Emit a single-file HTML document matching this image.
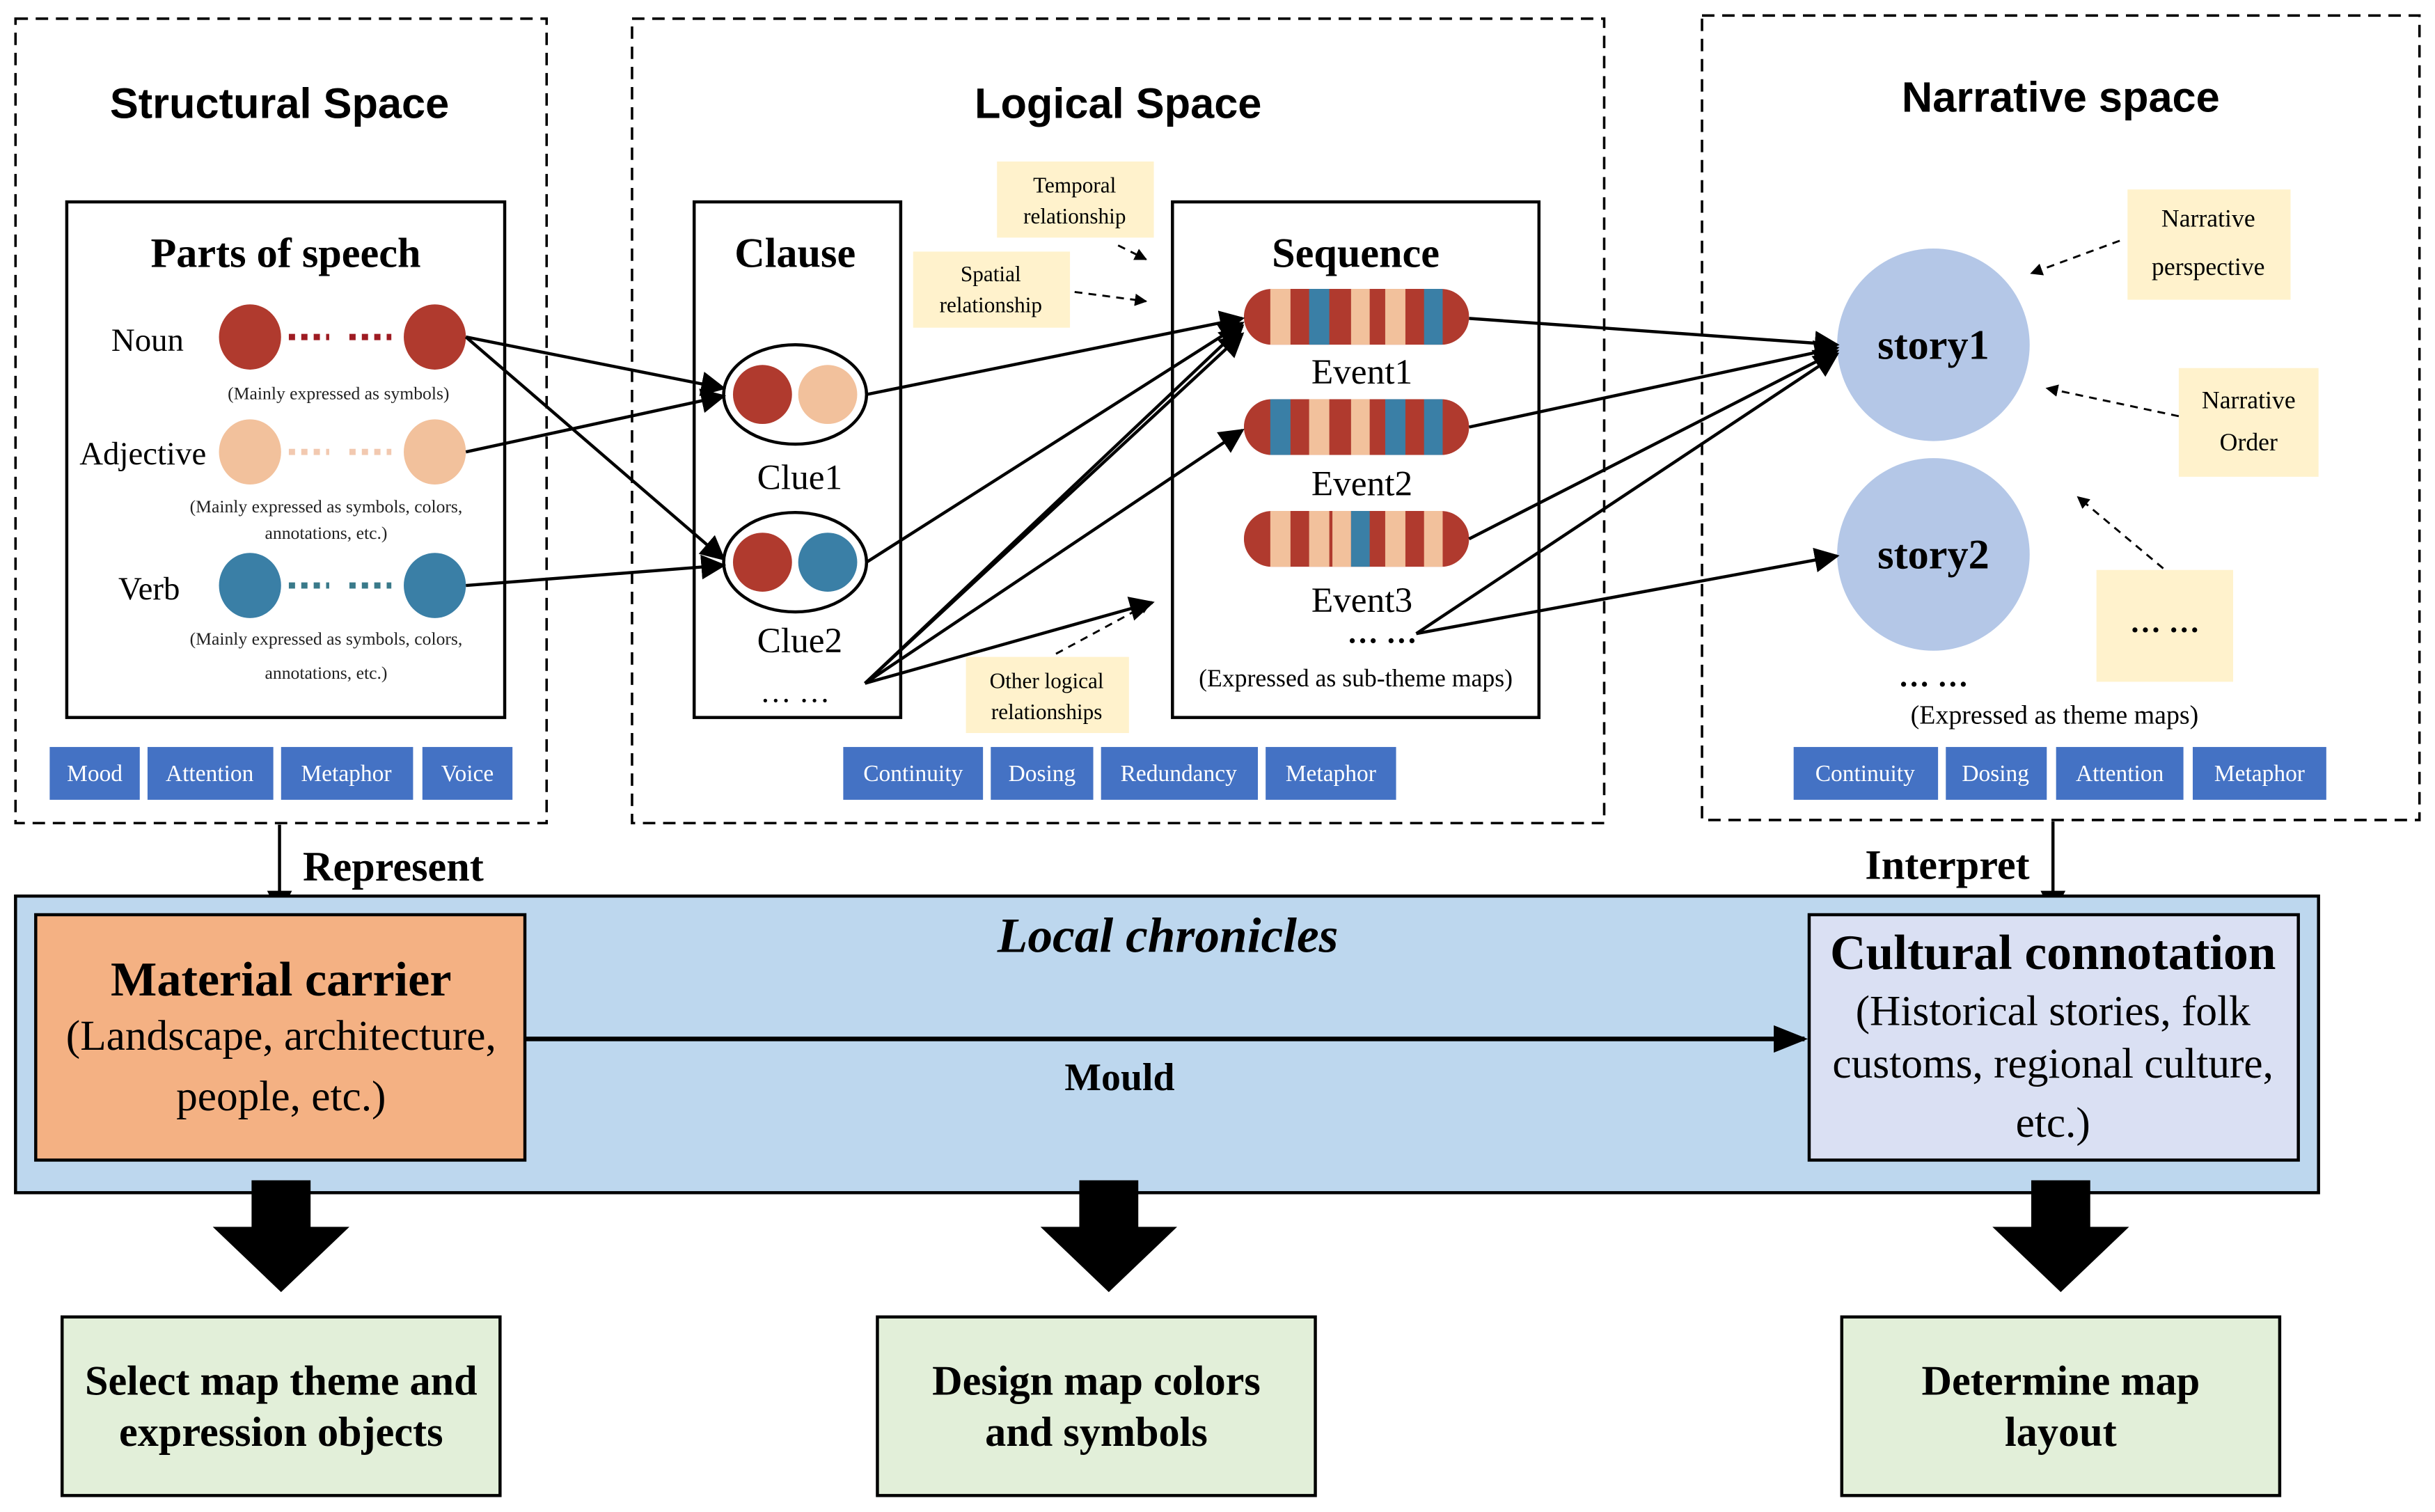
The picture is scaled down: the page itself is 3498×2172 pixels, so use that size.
<!DOCTYPE html>
<html><head><meta charset="utf-8"><style>html,body{margin:0;padding:0;background:#fff}svg{display:block}</style></head>
<body>
<svg width="3498" height="2172" viewBox="0 0 1568 973.6" xmlns="http://www.w3.org/2000/svg" font-family="'Liberation Serif',serif">
<defs>
<marker id="a" viewBox="0 0 10 10" refX="9" refY="5" markerWidth="8" markerHeight="8" orient="auto" markerUnits="userSpaceOnUse"><path d="M0,0L10,5L0,10z" fill="#000"/></marker>
<marker id="b" viewBox="0 0 10 10" refX="9" refY="5" markerWidth="16" markerHeight="16" orient="auto" markerUnits="userSpaceOnUse"><path d="M0,0L10,5L0,10z" fill="#000"/></marker>
<marker id="c" viewBox="0 0 10 10" refX="9" refY="5" markerWidth="22" markerHeight="22" orient="auto" markerUnits="userSpaceOnUse"><path d="M0,1L10,5L0,9z" fill="#000"/></marker>
<clipPath id="e1"><rect x="801" y="186" width="145" height="36" rx="18"/></clipPath>
<clipPath id="e2"><rect x="801" y="257" width="145" height="36" rx="18"/></clipPath>
<clipPath id="e3"><rect x="801" y="329" width="145" height="36" rx="18"/></clipPath>
</defs>
<g fill="none" stroke="#000" stroke-width="1.6" stroke-dasharray="8,5">
<rect x="10" y="12" width="342" height="518"/>
<rect x="407" y="12" width="626" height="518"/>
<rect x="1096" y="10" width="462" height="518"/>
</g>
<g font-family="'Liberation Sans',sans-serif" font-weight="bold" font-size="27.5" text-anchor="middle">
<text x="180" y="76">Structural Space</text>
<text x="720" y="76">Logical Space</text>
<text x="1327" y="72">Narrative space</text>
</g>
<!-- Parts of speech -->
<rect x="43" y="130" width="282" height="332" fill="#fff" stroke="#000" stroke-width="2"/>
<text x="184" y="172" font-size="27" font-weight="bold" text-anchor="middle">Parts of speech</text>
<g font-size="21" text-anchor="middle">
<text x="95" y="226">Noun</text><text x="92" y="299">Adjective</text><text x="96" y="386">Verb</text>
</g>
<g font-size="11.5" text-anchor="middle" fill="#222">
<text x="218" y="257">(Mainly expressed as symbols)</text>
<text x="210" y="330">(Mainly expressed as symbols, colors,</text><text x="210" y="347">annotations, etc.)</text>
<text x="210" y="415">(Mainly expressed as symbols, colors,</text><text x="210" y="437">annotations, etc.)</text>
</g>
<g>
<ellipse cx="161" cy="217" rx="20" ry="21" fill="#b03a2e"/><ellipse cx="280" cy="217" rx="20" ry="21" fill="#b03a2e"/>
<ellipse cx="161" cy="291" rx="20" ry="21" fill="#f2c19c"/><ellipse cx="280" cy="291" rx="20" ry="21" fill="#f2c19c"/>
<ellipse cx="161" cy="377" rx="20" ry="21" fill="#3a7fa6"/><ellipse cx="280" cy="377" rx="20" ry="21" fill="#3a7fa6"/>
<path d="M186 217H212M225 217H252" stroke="#9e1b22" stroke-width="4" stroke-dasharray="4,4"/>
<path d="M186 291H212M225 291H252" stroke="#f2c9b0" stroke-width="4" stroke-dasharray="4,4"/>
<path d="M186 377H212M225 377H252" stroke="#3a7a8a" stroke-width="4" stroke-dasharray="4,4"/>
</g>
<!-- buttons -->
<g fill="#4472c4">
<rect x="32" y="481" width="58" height="34"/><rect x="95" y="481" width="81" height="34"/><rect x="181" y="481" width="85" height="34"/><rect x="272" y="481" width="58" height="34"/>
<rect x="543" y="481" width="90" height="34"/><rect x="638" y="481" width="66" height="34"/><rect x="709" y="481" width="101" height="34"/><rect x="815" y="481" width="84" height="34"/>
<rect x="1155" y="481" width="93" height="34"/><rect x="1253" y="481" width="65" height="34"/><rect x="1324" y="481" width="82" height="34"/><rect x="1412" y="481" width="86" height="34"/>
</g>
<g fill="#fff" font-size="15" text-anchor="middle">
<text x="61" y="503">Mood</text><text x="135" y="503">Attention</text><text x="223" y="503">Metaphor</text><text x="301" y="503">Voice</text>
<text x="588" y="503">Continuity</text><text x="671" y="503">Dosing</text><text x="759" y="503">Redundancy</text><text x="857" y="503">Metaphor</text>
<text x="1201" y="503">Continuity</text><text x="1285" y="503">Dosing</text><text x="1365" y="503">Attention</text><text x="1455" y="503">Metaphor</text>
</g>
<!-- Clause -->
<rect x="447" y="130" width="133" height="332" fill="#fff" stroke="#000" stroke-width="2"/>
<text x="512" y="172" font-size="27" font-weight="bold" text-anchor="middle">Clause</text>
<ellipse cx="512" cy="254" rx="46" ry="32" fill="#fff" stroke="#000" stroke-width="2"/>
<circle cx="491" cy="254" r="19" fill="#b03a2e"/><circle cx="533" cy="254" r="19" fill="#f2c19c"/>
<ellipse cx="512" cy="362" rx="46" ry="32" fill="#fff" stroke="#000" stroke-width="2"/>
<circle cx="491" cy="362" r="19" fill="#b03a2e"/><circle cx="533" cy="362" r="19" fill="#3a7fa6"/>
<g font-size="23" text-anchor="middle"><text x="515" y="315">Clue1</text><text x="515" y="420">Clue2</text></g>
<text x="512" y="452" font-size="20" text-anchor="middle">… …</text>
<!-- Sequence -->
<rect x="755" y="130" width="236" height="332" fill="#fff" stroke="#000" stroke-width="2"/>
<text x="873" y="172" font-size="27" font-weight="bold" text-anchor="middle">Sequence</text>
<g clip-path="url(#e1)">
<rect x="801" y="186" width="145" height="36" fill="#b03a2e"/>
<rect x="818" y="186" width="13" height="36" fill="#f2c19c"/><rect x="843" y="186" width="13" height="36" fill="#3a7fa6"/><rect x="870" y="186" width="12" height="36" fill="#f2c19c"/><rect x="892" y="186" width="13" height="36" fill="#f2c19c"/><rect x="917" y="186" width="12" height="36" fill="#3a7fa6"/>
</g>
<g clip-path="url(#e2)">
<rect x="801" y="257" width="145" height="36" fill="#b03a2e"/>
<rect x="818" y="257" width="13" height="36" fill="#3a7fa6"/><rect x="843" y="257" width="13" height="36" fill="#f2c19c"/><rect x="870" y="257" width="12" height="36" fill="#f2c19c"/><rect x="892" y="257" width="13" height="36" fill="#3a7fa6"/><rect x="917" y="257" width="12" height="36" fill="#3a7fa6"/>
</g>
<g clip-path="url(#e3)">
<rect x="801" y="329" width="145" height="36" fill="#b03a2e"/>
<rect x="818" y="329" width="13" height="36" fill="#f2c19c"/><rect x="843" y="329" width="13" height="36" fill="#f2c19c"/><rect x="858" y="329" width="12" height="36" fill="#f2c19c"/><rect x="870" y="329" width="12" height="36" fill="#3a7fa6"/><rect x="892" y="329" width="13" height="36" fill="#f2c19c"/><rect x="917" y="329" width="12" height="36" fill="#f2c19c"/>
</g>
<g font-size="23" text-anchor="middle"><text x="877" y="247">Event1</text><text x="877" y="319">Event2</text><text x="877" y="394">Event3</text></g>
<text x="890" y="414" font-size="20" font-weight="bold" text-anchor="middle">… …</text>
<text x="873" y="442" font-size="16" text-anchor="middle">(Expressed as sub-theme maps)</text>
<!-- yellow notes -->
<g fill="#fff2cc">
<rect x="642" y="104" width="101" height="49"/><rect x="588" y="162" width="101" height="49"/><rect x="622" y="423" width="105" height="49"/>
<rect x="1370" y="122" width="105" height="71"/><rect x="1403" y="237" width="90" height="70"/><rect x="1350" y="367" width="88" height="72"/>
</g>
<g font-size="14" text-anchor="middle">
<text x="692" y="124">Temporal</text><text x="692" y="144">relationship</text>
<text x="638" y="181">Spatial</text><text x="638" y="201">relationship</text>
<text x="674" y="443">Other logical</text><text x="674" y="463">relationships</text>
<text x="1422" y="146" font-size="16">Narrative</text><text x="1422" y="177" font-size="16">perspective</text>
<text x="1448" y="263" font-size="16">Narrative</text><text x="1448" y="290" font-size="16">Order</text>
</g>
<text x="1394" y="407" font-size="20" font-weight="bold" text-anchor="middle">… …</text>
<!-- stories -->
<circle cx="1245" cy="222" r="62" fill="#b4c7e7"/><circle cx="1245" cy="357" r="62" fill="#b4c7e7"/>
<g font-size="27" font-weight="bold" text-anchor="middle"><text x="1245" y="231">story1</text><text x="1245" y="366">story2</text></g>
<text x="1245" y="442" font-size="20" font-weight="bold" text-anchor="middle">… …</text>
<text x="1323" y="466" font-size="17" text-anchor="middle">(Expressed as theme maps)</text>
<!-- dashed arrows -->
<g stroke="#000" stroke-width="1.3" stroke-dasharray="5,4" marker-end="url(#a)" fill="none">
<path d="M720 158L738 167"/><path d="M692 188L738 194"/><path d="M680 421L741 388"/>
<path d="M1365 155L1308 176"/><path d="M1403 268L1318 250"/><path d="M1393 366L1338 320"/>
</g>
<!-- solid arrows -->
<g stroke="#000" stroke-width="2" marker-end="url(#b)" fill="none">
<path d="M300 217L466 250"/><path d="M300 217L466 360"/><path d="M300 291L466 255"/><path d="M300 377L466 364"/>
<path d="M558 254L800 205"/><path d="M558 362L800 208"/>
<path d="M557 440L800 210"/><path d="M557 440L800 215"/><path d="M557 440L800 277"/><path d="M557 440L742 388"/>
<path d="M946 205L1183 222"/><path d="M946 275L1183 224"/><path d="M946 347L1183 226"/><path d="M912 408L1183 228"/><path d="M912 408L1183 358"/>
<path d="M180 531V588"/><path d="M1322 529V588"/>
</g>
<g font-size="27" font-weight="bold"><text x="195" y="567">Represent</text><text x="1201" y="566">Interpret</text></g>
<!-- bottom band -->
<rect x="10" y="577" width="1483" height="191" fill="#bdd7ee" stroke="#000" stroke-width="2"/>
<text x="752" y="613" font-size="32" font-weight="bold" font-style="italic" text-anchor="middle">Local chronicles</text>
<rect x="23" y="589" width="315" height="158" fill="#f4b183" stroke="#000" stroke-width="2"/>
<text x="181" y="641" font-size="31.5" font-weight="bold" text-anchor="middle">Material carrier</text>
<g font-size="27.5" text-anchor="middle"><text x="181" y="676">(Landscape, architecture,</text><text x="181" y="715">people, etc.)</text></g>
<rect x="1165" y="589" width="315" height="158" fill="#dae0f3" stroke="#000" stroke-width="2"/>
<text x="1322" y="624" font-size="32" font-weight="bold" text-anchor="middle">Cultural connotation</text>
<g font-size="27.5" text-anchor="middle"><text x="1322" y="660">(Historical stories, folk</text><text x="1322" y="694">customs, regional culture,</text><text x="1322" y="732">etc.)</text></g>
<path d="M338 669H1162" stroke="#000" stroke-width="3" marker-end="url(#c)"/>
<text x="721" y="702" font-size="25" font-weight="bold" text-anchor="middle">Mould</text>
<!-- block arrows -->
<g fill="#000">
<path d="M162 760H200V790H225L181 832L137 790H162Z"/>
<path d="M695 760H733V790H758L714 832L670 790H695Z"/>
<path d="M1308 760H1346V790H1371L1327 832L1283 790H1308Z"/>
</g>
<g fill="#e2efd9" stroke="#000" stroke-width="2">
<rect x="40" y="848" width="282" height="115"/><rect x="565" y="848" width="282" height="115"/><rect x="1186" y="848" width="282" height="115"/>
</g>
<g font-size="27" font-weight="bold" text-anchor="middle">
<text x="181" y="898">Select map theme and</text><text x="181" y="931">expression objects</text>
<text x="706" y="898">Design map colors</text><text x="706" y="931">and symbols</text>
<text x="1327" y="898">Determine  map</text><text x="1327" y="931">layout</text>
</g>
</svg>
</body></html>
